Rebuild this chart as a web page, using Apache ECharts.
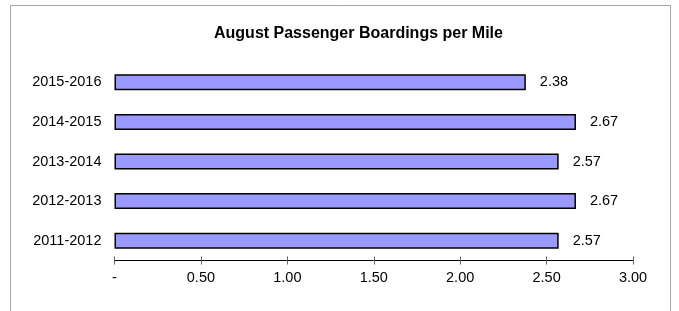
<!DOCTYPE html>
<html>
<head>
<meta charset="utf-8">
<script src="https://cdn.jsdelivr.net/npm/echarts@6/dist/echarts.min.js"></script>
<style>
  html, body { margin: 0; padding: 0; background: #fff; }
  #chart { width: 679px; height: 311px; }
</style>
</head>
<body>
<div id="chart"></div>
<script>
var years = ['2011-2012', '2012-2013', '2013-2014', '2014-2015', '2015-2016']
var boardings = [2.57, 2.67, 2.57, 2.67, 2.38]
var tickLabels = ['-', '0.50', '1.00', '1.50', '2.00', '2.50', '3.00']

var chart = echarts.init(document.getElementById('chart'))
var font = 'Liberation Sans, Arial, sans-serif'

var option = {
  animation: false,
  title: {
    text: 'August Passenger Boardings per Mile',
    left: 209,
    top: 21,
    textStyle: { fontFamily: font, fontSize: 16, fontWeight: 'bold', color: '#000' }
  },
  grid: {
    left: 114.5,
    right: 46,
    top: 62.5,
    bottom: 50.5
  },
  xAxis: [{
    type: 'value',
    min: 0,
    max: 3,
    interval: 0.5,
    axisLine: { show: true, lineStyle: { color: '#000', width: 1 } },
    axisTick: { show: true, length: 4, lineStyle: { color: '#666' } },
    splitLine: { show: false },
    axisLabel: {
      margin: 10,
      fontFamily: font,
      fontSize: 14.5,
      color: '#000',
      formatter: function(v) {
        return tickLabels[Math.round(v / 0.5)]
      }
    }
  }, {
    // second axis only to get the upper half of the ticks
    type: 'value',
    position: 'bottom',
    min: 0,
    max: 3,
    interval: 0.5,
    axisLine: { show: false },
    axisTick: { show: true, inside: true, length: 4, lineStyle: { color: '#666' } },
    axisLabel: { show: false },
    splitLine: { show: false }
  }],
  yAxis: {
    type: 'category',
    data: years,
    axisLine: { show: false },
    axisTick: { show: false },
    axisLabel: { margin: 13, fontFamily: font, fontSize: 14.5, color: '#000' }
  },
  series: [{
    type: 'bar',
    data: boardings,
    barWidth: 16,
    itemStyle: { color: '#9999ff', borderColor: '#000', borderWidth: 1.5 },
    label: {
      show: true,
      position: 'right',
      distance: 14,
      fontFamily: font,
      fontSize: 14.5,
      color: '#000',
      formatter: function(p) {
        return p.value.toFixed(2)
      }
    }
  }],
  graphic: [{
    type: 'rect',
    silent: true,
    shape: { x: 10.5, y: 5.5, width: 660, height: 330 },
    style: { fill: 'none', stroke: '#a6a6a6', lineWidth: 1 }
  }]
}
chart.setOption(option)
</script>
</body>
</html>
